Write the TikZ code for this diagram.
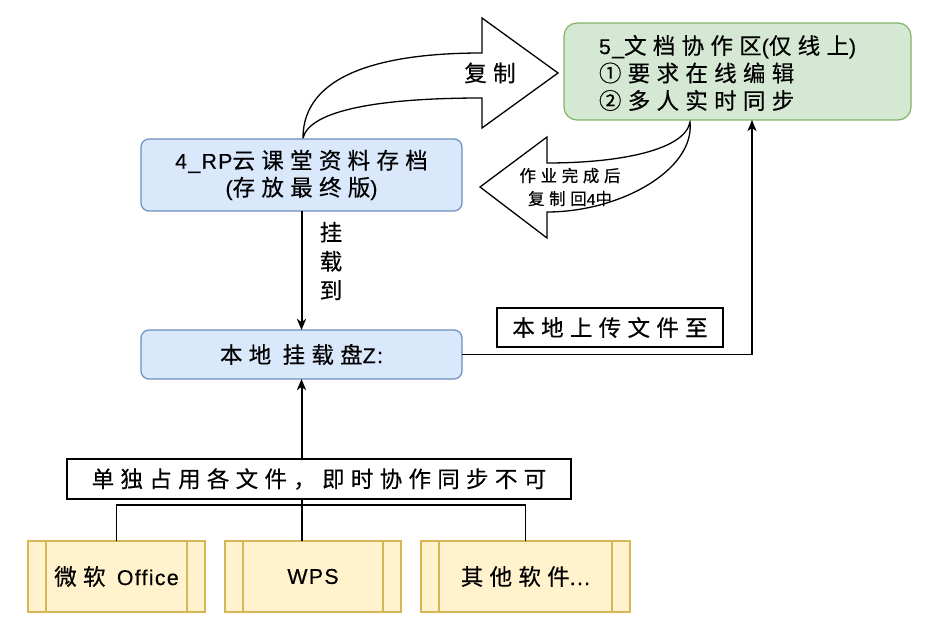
\documentclass[tikz,border=0pt]{standalone}
\usepackage{fontspec}
\setmainfont[LetterSpace=28,FakeBold=0.4]{Noto Sans CJK SC}
\newfontfamily\lat[LetterSpace=6,FakeBold=0.3,Scale=0.95]{Liberation Sans}
\usetikzlibrary{arrows.meta}
\definecolor{blueF}{HTML}{DAE8FC}
\definecolor{blueS}{HTML}{6C8EBF}
\definecolor{greenF}{HTML}{D5E8D4}
\definecolor{greenS}{HTML}{82B366}
\definecolor{yelF}{HTML}{FFF2CC}
\definecolor{yelS}{HTML}{D6B656}
\tikzset{
  bluebox/.style={draw=blueS, fill=blueF, rounded corners=8pt, line width=1.2pt, align=center, font=\fontsize{22.5}{27}\selectfont},
  greenbox/.style={draw=greenS, fill=greenF, rounded corners=13pt, line width=1.2pt},
  txtbox/.style={draw=black, fill=white, line width=1.2pt, font=\fontsize{22.5}{27}\selectfont},
  procbox/.style={draw=yelS, fill=yelF, line width=1.2pt, minimum height=71pt, font=\fontsize{22.5}{27}\selectfont},
  arr/.style={-{Stealth[length=11pt,width=9pt,inset=3pt]}, line width=1.5pt},
  bigarrow/.style={draw=black, fill=white, line width=1.3pt, line join=miter},
  lbl/.style={font=\fontsize{22.5}{27}\selectfont, align=center},
  smalllbl/.style={font=\fontsize{16.5}{23}\selectfont, align=center},
}
\begin{document}
\begin{tikzpicture}[x=1pt,y=-1pt, every node/.style={inner sep=0pt, outer sep=0pt}]
\useasboundingbox (0,0) rectangle (932,631);

% curved arrow "复制"
\draw[bigarrow] (303,138) .. controls (303,75) and (380,53) .. (482,53)
  -- (482,18) -- (558,73) -- (482,128) -- (482,98)
  .. controls (380,98) and (310,110) .. (303,138) -- cycle;
\node[lbl] (copy) at (490,73) {复制};

% curved arrow back
\draw[bigarrow] (690,122) .. controls (685,150) and (620,163) .. (547,163)
  -- (547,137) -- (480,187) -- (547,238) -- (547,212)
  .. controls (620,212) and (695,170) .. (690,122) -- cycle;

% boxes
\node[bluebox, minimum width=321pt, minimum height=72pt] (box4) at (301.5,175) {{\lat 4\_RP}云课堂资料存档\\{\lat (}存放最终版{\lat )}};
\node[greenbox, minimum width=347pt, minimum height=97pt] (box5) at (737.5,71.5) {};
\node[lbl, anchor=west, align=left] (box5t) at (599,73) {{\lat 5\_}文档协作区{\lat (}仅线上{\lat )}\\[0.5pt]①要求在线编辑\\[0.5pt]②多人实时同步};
\node[bluebox, minimum width=321pt, minimum height=49pt] (boxZ) at (301.5,354.5) {本地 挂载盘{\lat Z:}};

\node[smalllbl] (backlbl) at (570,187) {作业完成后\\复制回{\lat 4}中};

% mount arrow
\draw[arr, line width=2pt] (box4.south) -- (boxZ.north);
\node[lbl] (mount) at (331,261) {挂\\[2pt]载\\[2pt]到};

% upload
\draw[arr] (boxZ.east) -| ([xshift=14.5pt]box5.south);
\node[txtbox, minimum width=226pt, minimum height=39pt] (upl) at (610,327.5) {本地上传文件至};

% single
\node[txtbox, minimum width=504pt, minimum height=40pt] (single) at (319,479) {单独占用各文件，即时协作同步不可};
\draw[arr, line width=2pt] (single.north -| boxZ.south) -- (boxZ.south);

% bottom boxes
\node[procbox, minimum width=177pt] (b1) at (116.5,576.5) {微软 {\lat Office}};
\node[procbox, minimum width=176pt] (b2) at (313,576.5) {{\lat WPS}};
\node[procbox, minimum width=209pt] (b3) at (525.5,576.5) {其他软件{\lat ...}};
\foreach \b in {b1,b2,b3}{
  \draw[yelS, line width=1.2pt] ([xshift=18pt]\b.north west) -- ([xshift=18pt]\b.south west);
  \draw[yelS, line width=1.2pt] ([xshift=-18pt]\b.north east) -- ([xshift=-18pt]\b.south east);
}
\coordinate (jn) at (302,505);
\draw[line width=1.5pt] (b1.north) |- (jn);
\draw[line width=1.5pt] (b3.north) |- (jn);
\draw[line width=1.5pt] (b2.north -| jn) -- (jn) -- (jn |- single.south);
\end{tikzpicture}
\end{document}
